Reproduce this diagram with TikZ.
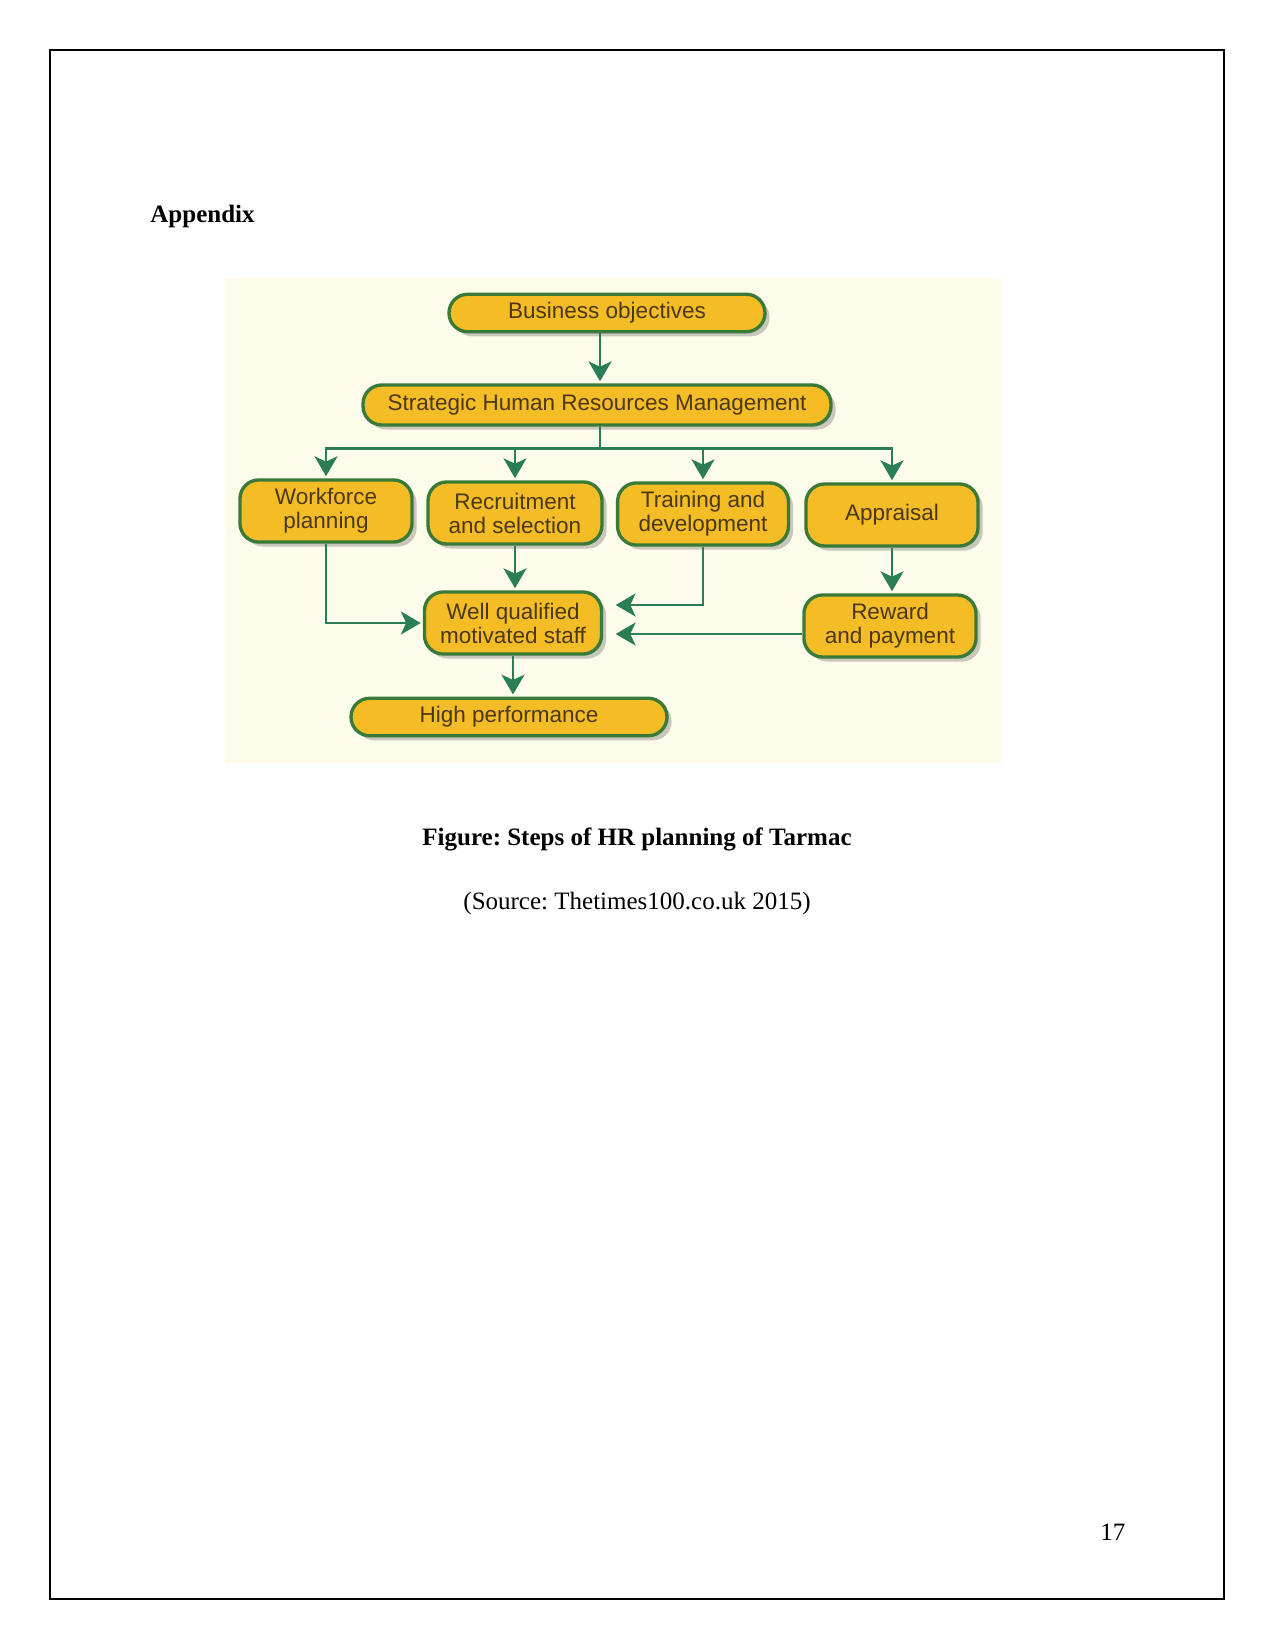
\documentclass[tikz,border=0pt]{standalone}
\usepackage{fontspec}
\setmainfont{Liberation Serif}
\newfontfamily\boxfont{Liberation Sans}
\usepackage{xcolor}
\usepackage{tikz}
\usetikzlibrary{arrows.meta, positioning, calc, shadows}
\definecolor{hrgold}{HTML}{F4BC25}
\definecolor{hrgreen}{HTML}{3A7A38}
\definecolor{hrarrow}{HTML}{2B7D55}
\definecolor{hrtext}{HTML}{4A3818}
\definecolor{hrpale}{HTML}{FDFCEA}
\frenchspacing

\tikzset{
  stepbox/.style={draw=hrgreen, fill=hrgold, line width=1.6pt, rounded corners=9pt,
    align=center, inner sep=0pt, text=hrtext, font=\boxfont\fontsize{10.8}{11.5}\selectfont,
    drop shadow={shadow xshift=2.2pt, shadow yshift=-2.2pt, opacity=.35, fill=black!60}},
  smallbox/.style={stepbox, minimum width=82.6pt, minimum height=29.8pt},
  widebox/.style={stepbox, minimum height=18pt},
  flow/.style={draw=hrarrow, line width=1.4pt,
    -{Stealth[length=9.5pt, width=11pt, inset=2.5pt]}, shorten >=1pt},
  link/.style={draw=hrarrow, line width=1.4pt},
  pagetext/.style={inner sep=0pt, font=\fontsize{12}{14}\selectfont}
}

\begin{document}
\begin{tikzpicture}[x=0.48pt, y=-0.48pt]
\useasboundingbox (0,0) rectangle (1275,1650);
% page frame
\draw[line width=0.7pt] (50,50) rectangle (1224,1599);
\node[pagetext, anchor=base west, font=\fontsize{12}{14}\selectfont\bfseries] (appx) at (150,223) {Appendix};

% scanned figure background
\fill[hrpale] (225,278) rectangle (1002,763);

% boxes
\node[widebox, minimum width=151.7pt] (bizobj) at (607,313) {Business objectives};
\node[widebox, minimum width=224.6pt, minimum height=19.2pt] (shrm) at (597,405) {Strategic Human Resources Management};
\node[smallbox] (wfplan) at (326,511) {Workforce\\planning};
\node[smallbox, minimum width=83.5pt] (recruit) at (515,513) {Recruitment\\and selection};
\node[smallbox, minimum width=82pt] (train) at (703,514) {Training and\\development};
\node[smallbox] (appraisal) at (892,515) {Appraisal};
\node[smallbox, minimum width=85pt] (staff) at (513,623) {Well qualified\\motivated staff};
\node[smallbox] (reward) at (890,626) {Reward\\and payment};
\node[widebox, minimum width=151.7pt] (highperf) at (509,717) {High performance};

% connectors
\draw[flow] (bizobj.south -| shrm.north) ++(3,0) coordinate (bo) -- (bo |- shrm.north);
\coordinate (split) at ($(shrm.south)+(3,22)$);
\draw[link] (shrm.south -| split) -- (split);
\foreach \n in {wfplan, recruit, train, appraisal}
  \draw[flow] (split) -| (\n.north);
\draw[flow] (wfplan.south) |- (staff.west);
\draw[flow] (recruit.south) -- (recruit.south |- staff.north);
\draw[flow, shorten >=6pt] (train.south) |- ($(staff.east)+(0,-18)$);
\draw[flow] (appraisal.south) -- (appraisal.south |- reward.north);
\draw[flow, shorten >=6pt] (reward.west |- 0,634) -- (staff.east |- 0,634);
\draw[flow] (staff.south) -- (staff.south |- highperf.north);

% caption
\node[pagetext, anchor=base, font=\fontsize{12}{14}\selectfont\bfseries] (caption) at (637,845) {Figure: Steps of HR planning of Tarmac};
\node[pagetext, anchor=base] (source) at (637,909) {(Source: Thetimes100.co.uk 2015)};
\node[pagetext, anchor=base west] (pageno) at (1100,1540) {17};
\end{tikzpicture}
\end{document}
